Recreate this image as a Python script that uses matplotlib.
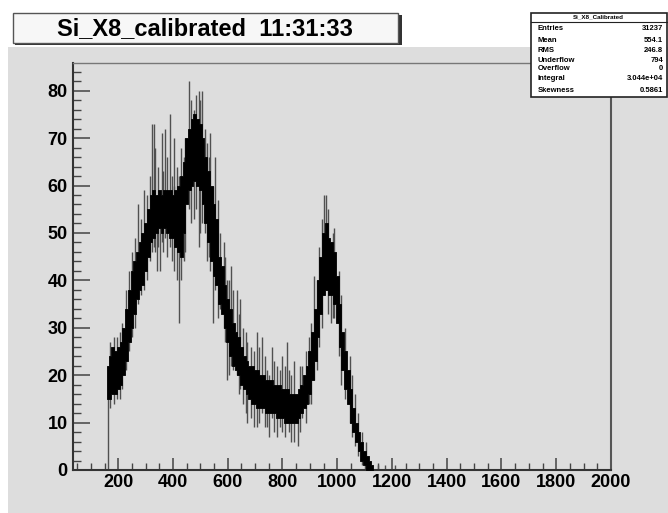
import matplotlib as mpl
mpl.use('Agg')
import matplotlib.pyplot as plt
from matplotlib.patches import Rectangle
from matplotlib.ticker import MultipleLocator

plt.rcParams['font.family'] = ['Liberation Sans', 'DejaVu Sans']
plt.rcParams['font.weight'] = 'bold'

# dense core of the histogram band (10-unit steps)
core_x = [160, 170, 180, 190, 200, 210, 220, 230, 240, 250,
          260, 270, 280, 290, 300, 310, 320, 330, 340, 350,
          360, 370, 380, 390, 400, 410, 420, 430, 440, 450,
          460, 470, 480, 490, 500, 510, 520, 530, 540, 550,
          560, 570, 580, 590, 600, 610, 620, 630, 640, 650,
          660, 670, 680, 690, 700, 710, 720, 730, 740, 750,
          760, 770, 780, 790, 800, 810, 820, 830, 840, 850,
          860, 870, 880, 890, 900, 910, 920, 930, 940, 950,
          960, 970, 980, 990, 1000, 1010, 1020, 1030, 1040, 1050,
          1060, 1070, 1080, 1090, 1100, 1110, 1120, 1130]
core_lo = [15, 15, 16, 16, 17, 18, 20, 23, 27, 30,
           33, 36, 38, 39, 42, 45, 48, 49, 50, 51,
           50, 51, 50, 49, 49, 47, 46, 45, 50, 56,
           59, 60, 61, 60, 59, 56, 52, 48, 44, 41,
           39, 35, 33, 30, 27, 24, 22, 21, 20, 18,
           17, 16, 15, 14, 14, 13, 13, 13, 12, 12,
           12, 12, 11, 11, 11, 10, 10, 10, 10, 10,
           11, 12, 13, 14, 16, 19, 23, 28, 33, 37,
           38, 37, 37, 35, 31, 26, 21, 17, 14, 10,
           8, 6, 4, 2, 1, 0, 0, 0]
core_hi = [22, 24, 26, 25, 26, 27, 30, 34, 38, 42,
           44, 46, 48, 50, 52, 55, 58, 59, 58, 59,
           58, 59, 59, 59, 58, 59, 60, 62, 65, 70,
           72, 74, 75, 74, 73, 70, 66, 63, 60, 56,
           53, 45, 43, 39, 36, 34, 31, 29, 28, 26,
           24, 23, 22, 22, 21, 21, 20, 20, 19, 19,
           19, 18, 18, 18, 17, 17, 17, 16, 16, 16,
           17, 18, 20, 22, 25, 29, 34, 40, 45, 50,
           52, 49, 48, 46, 41, 35, 29, 25, 21, 17,
           13, 10, 8, 6, 4, 3, 2, 1]

# single fluctuations sticking out of the band
spike_x = [161, 170, 183, 195, 205, 215, 228, 240, 250, 262,
           274, 285, 293, 305, 315, 323, 329, 335, 340, 345,
           354, 360, 365, 372, 380, 390, 395, 402, 405, 415,
           421, 430, 440, 445, 457, 465, 476, 485, 494, 500,
           506, 518, 525, 530, 537, 545, 555, 565, 573, 585,
           590, 598, 605, 612, 620, 634, 640, 646, 655, 665,
           671, 685, 695, 708, 715, 726, 735, 744, 750, 762,
           770, 781, 790, 799, 810, 817, 823, 830, 842, 856,
           865, 872, 885, 896, 903, 915, 925, 935, 945, 951,
           960, 965, 976, 985, 990, 1006, 1015, 1030, 1045, 1055,
           1065, 1075, 1090, 1105, 1150, 1175, 1210]
spike_lo = [0, 13, 14, 15, 15, 17, 21, 25, 28, 30,
            35, 37, 38, 40, 44, 46, 47, 46, 42, 47,
            42, 48, 46, 49, 45, 47, 44, 42, 50, 40,
            31, 40, 44, 46, 55, 52, 53, 55, 47, 50,
            52, 50, 44, 45, 42, 31, 38, 32, 34, 30,
            27, 19, 20, 22, 21, 20, 16, 17, 14, 12,
            10, 11, 9, 9, 10, 12, 9, 9, 7, 11,
            8, 7, 9, 8, 7, 10, 8, 6, 6, 5,
            8, 11, 10, 14, 14, 19, 21, 26, 30, 37,
            38, 33, 31, 32, 32, 24, 18, 15, 10, 7,
            5, 3, 1, 0, 0, 0, 0]
spike_hi = [22, 27, 28, 28, 29, 31, 38, 42, 46, 49,
            56, 53, 59, 58, 62, 73, 73, 68, 58, 64,
            57, 71, 63, 72, 66, 75, 62, 60, 70, 64,
            62, 68, 66, 70, 82, 78, 76, 79, 80, 78,
            80, 72, 69, 66, 71, 60, 66, 57, 50, 48,
            45, 40, 40, 43, 38, 38, 33, 36, 30, 29,
            27, 26, 25, 29, 26, 28, 24, 21, 20, 26,
            23, 22, 21, 24, 22, 27, 21, 20, 23, 16,
            22, 22, 25, 28, 31, 41, 40, 47, 53, 58,
            58, 55, 48, 50, 51, 42, 37, 30, 24, 20,
            16, 12, 8, 6, 1, 1, 1]

title = 'Si_X8_calibrated  11:31:33'
stats_name = 'Si_X8_Calibrated'
stats_keys = ['Entries', 'Mean', 'RMS', 'Underflow', 'Overflow', 'Integral', 'Skewness']
stats_vals = ['31237', '554.1', '246.8', '794', '0', '3.044e+04', '0.5861']

W, H = 668, 513
fig = plt.figure(figsize=(W / 100, H / 100), dpi=100)
fig.patch.set_facecolor('white')

# gray canvas
fig.patches.append(Rectangle((8 / W, 0), 1, 1 - 47 / H, transform=fig.transFigure,
                             facecolor='#dddddd', edgecolor='none', zorder=-5))

ax = fig.add_axes([73.3 / W, 1 - 470 / H, (611 - 73.3) / W, (470 - 62.7) / H])
ax.set_facecolor('#dddddd')

ax.fill_between(core_x, core_lo, core_hi, step='mid', color='black', lw=0.6, zorder=3)
ax.vlines(spike_x, spike_lo, spike_hi, color='#505050', lw=1.0, zorder=2)

ax.set_xlim(36, 2000)
ax.set_ylim(0, 85.9)
ax.xaxis.set_major_locator(MultipleLocator(200))
ax.xaxis.set_minor_locator(MultipleLocator(50))
ax.yaxis.set_major_locator(MultipleLocator(10))
ax.yaxis.set_minor_locator(MultipleLocator(2))
ax.tick_params(axis='x', which='major', direction='in', length=9, width=1.1,
               color='#444444', labelsize=13, pad=3)
ax.tick_params(axis='x', which='minor', direction='in', length=5, width=1.0, color='#444444')
ax.tick_params(axis='y', which='major', direction='in', length=12, width=1.1,
               color='#444444', labelsize=13, pad=4)
ax.tick_params(axis='y', which='minor', direction='in', length=6, width=1.0, color='#444444')
for lbl in ax.get_xticklabels() + ax.get_yticklabels():
	lbl.set_fontweight('bold')

for side in ['left', 'bottom']:
	ax.spines[side].set_color('#333333')
	ax.spines[side].set_linewidth(1.5)
ax.spines['top'].set_color('#777777')
ax.spines['top'].set_linewidth(1.0)
ax.spines['right'].set_color('#555555')
ax.spines['right'].set_linewidth(1.5)

# title box with shadow
fig.patches.append(Rectangle((14.5 / W, 1 - 45 / H), (400 - 12.7) / W, (43.3 - 13.3) / H,
                             transform=fig.transFigure, facecolor='#333333',
                             edgecolor='none', zorder=4))
fig.patches.append(Rectangle((12.7 / W, 1 - 43.3 / H), (398 - 12.7) / W, (43.3 - 13.3) / H,
                             transform=fig.transFigure, facecolor='#f7f7f7',
                             edgecolor='#555555', lw=1.0, zorder=5))
fig.text(205 / W, 1 - 28.5 / H, title, ha='center', va='center', fontsize=17,
         fontweight='bold', zorder=6)

# stats box
sx0, sy0, sx1, sy1 = 531, 13, 666.5, 97
fig.patches.append(Rectangle((sx0 / W, 1 - sy1 / H), (sx1 - sx0) / W, (sy1 - sy0) / H,
                             transform=fig.transFigure, facecolor='white',
                             edgecolor='#222222', lw=1.2, zorder=5))
fig.add_artist(plt.Line2D([sx0 / W, sx1 / W], [1 - 21.5 / H, 1 - 21.5 / H],
                          color='#222222', lw=0.8, zorder=6))
fig.text((sx0 + sx1) / 2 / W, 1 - 17 / H, stats_name, ha='center', va='center',
         fontsize=4.5, fontweight='bold', zorder=6)
row_y = [29, 40, 50, 60, 69, 78.5, 90]
for key, val, yy in zip(stats_keys, stats_vals, row_y):
	fig.text(538 / W, 1 - yy / H, key, ha='left', va='center', fontsize=5.5,
	         fontweight='bold', zorder=6)
	fig.text(663 / W, 1 - yy / H, val, ha='right', va='center', fontsize=5.5,
	         fontweight='bold', zorder=6)

fig.savefig('out.png', dpi=100, facecolor=fig.get_facecolor())
